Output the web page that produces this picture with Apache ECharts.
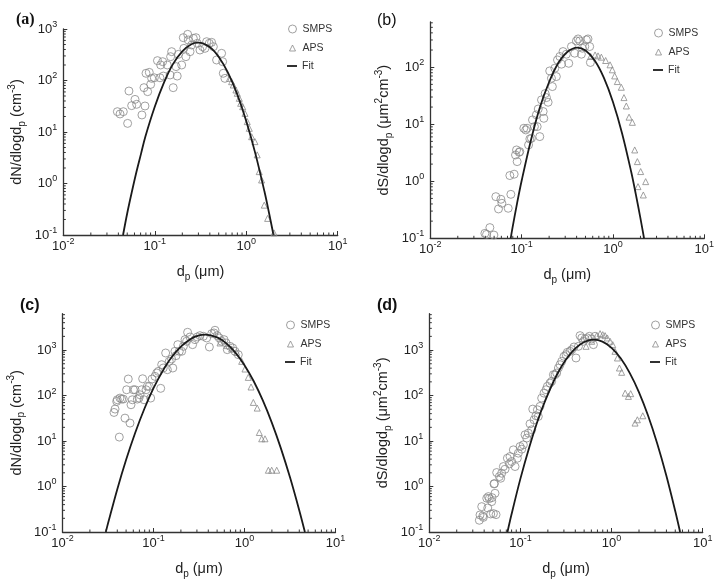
<!DOCTYPE html>
<html><head><meta charset="utf-8">
<script src="https://cdn.jsdelivr.net/npm/echarts@6/dist/echarts.min.js"></script>
<style>html,body{margin:0;padding:0;background:#fff}#chart{width:722px;height:584px}</style>
</head><body><div id="chart"></div>
<script>
// ---------- data (d_p in µm, value) ----------
const smpsA = [[0.039,24.8],[0.0417,22.4],[0.0453,24.8],[0.0505,14.7],[0.0522,62.5],[0.0559,32.5],[0.0608,43],[0.0634,34.5],[0.0724,21.4],[0.0762,72.6],[0.0782,32],[0.0802,138],[0.0836,60.7],[0.0871,144],[0.0902,84],[0.0925,110],[0.0989,113],[0.107,243],[0.114,113],[0.116,200],[0.122,232],[0.124,122],[0.137,200],[0.147,128],[0.149,290],[0.153,363],[0.159,72.6],[0.171,186],[0.176,122],[0.181,322],[0.197,200],[0.205,679],[0.208,421],[0.219,290],[0.229,788],[0.232,612],[0.243,363],[0.253,489],[0.264,659],[0.282,679],[0.292,527],[0.312,391],[0.333,454],[0.354,421],[0.369,567],[0.394,527],[0.418,551],[0.437,454],[0.474,250],[0.538,337],[0.552,232],[0.561,138],[0.585,110]];
const apsA = [[0.655,110],[0.692,94.8],[0.721,81.8],[0.771,65.4],[0.798,56.4],[0.84,45.1],[0.869,36.1],[0.915,31],[0.969,23],[1.026,15.9],[1.08,11.8],[1.146,8.1],[1.245,6.5],[1.318,3.6],[1.387,1.7],[1.472,1.17],[1.574,0.38],[1.714,0.21],[2.01,0.11]];
const fitA = [[0.045,0.1],[0.05,0.265],[0.0562,0.69],[0.063,1.67],[0.0708,3.8],[0.079,8.2],[0.1,31],[0.126,91],[0.158,208],[0.2,368],[0.251,506],[0.3,543],[0.398,446],[0.501,286],[0.631,142],[0.794,55],[1.0,16.4],[1.259,3.8],[1.585,0.69],[1.778,0.265],[1.986,0.1]];

const smpsB = [[0.0396,0.122],[0.0413,0.117],[0.0449,0.154],[0.0497,0.114],[0.0522,0.537],[0.0558,0.327],[0.0593,0.483],[0.0608,0.411],[0.0713,0.336],[0.0743,1.26],[0.0762,0.59],[0.0828,1.33],[0.0857,2.89],[0.0879,3.54],[0.0893,2.21],[0.094,3.22],[0.0955,3.31],[0.1057,8.5],[0.111,7.94],[0.1148,8.5],[0.119,4.33],[0.123,5.52],[0.128,5.67],[0.1315,11.9],[0.138,9.08],[0.145,14.6],[0.148,9.08],[0.152,18.5],[0.158,6.07],[0.165,26.7],[0.172,16.7],[0.175,12.7],[0.181,34.5],[0.187,29.3],[0.195,24.3],[0.203,86],[0.212,64],[0.217,45.7],[0.231,96],[0.24,68.5],[0.247,134],[0.262,154],[0.273,113],[0.284,188],[0.309,169],[0.328,117],[0.351,230],[0.381,176],[0.398,289],[0.415,313],[0.433,289],[0.451,169],[0.462,215],[0.491,230],[0.512,301],[0.533,313],[0.556,230],[0.566,121]];
const apsB = [[0.57,154],[0.637,164],[0.686,158],[0.746,150],[0.832,131],[0.929,110],[0.984,90],[1.044,70.3],[1.116,56],[1.234,44.5],[1.32,29.3],[1.4,20.9],[1.5,13.3],[1.63,10.8],[1.73,3.54],[1.85,2.21],[1.88,0.805],[2.01,1.48],[2.15,0.575],[2.28,0.985]];
const fitB = [[0.0759,0.1],[0.0794,0.152],[0.0891,0.41],[0.1,1.02],[0.126,5.15],[0.158,19.5],[0.2,55],[0.251,117],[0.316,185],[0.407,221],[0.501,196],[0.631,131],[0.794,65.5],[1.0,24.5],[1.259,6.9],[1.585,1.45],[1.778,0.594],[1.995,0.228],[2.19,0.1]];

const smpsC = [[0.0368,42.5],[0.0378,50.4],[0.0394,74.3],[0.04,80.8],[0.0421,12.2],[0.0428,87.9],[0.0447,83.6],[0.0466,83.6],[0.0486,31.9],[0.0507,134],[0.0528,231],[0.0552,24.8],[0.0566,62.7],[0.0585,80.8],[0.06,134],[0.0627,134],[0.0664,83.6],[0.0693,88],[0.0711,104],[0.0741,134],[0.076,234],[0.0787,80.8],[0.0828,134],[0.0855,159],[0.0899,159],[0.0931,88],[0.0963,231],[0.1038,264],[0.1084,313],[0.113,340],[0.12,144],[0.123,477],[0.128,403],[0.136,862],[0.142,370],[0.149,565],[0.158,635],[0.163,403],[0.172,938],[0.177,753],[0.185,1315],[0.192,938],[0.204,938],[0.213,1208],[0.222,1694],[0.231,1557],[0.237,2459],[0.252,1940],[0.269,1315],[0.286,1694],[0.303,1940],[0.324,2075],[0.353,2006],[0.384,1845],[0.411,1169],[0.436,2296],[0.462,2377],[0.474,2722],[0.502,2075],[0.528,1845],[0.561,1557],[0.596,1694],[0.627,1432],[0.647,1021],[0.693,1208],[0.741,1111],[0.787,938],[0.855,792]];
const apsC = [[0.538,1432],[0.637,1250],[0.723,1056],[0.82,891],[0.931,565],[1.012,383],[1.1,251],[1.18,154],[1.25,70.6],[1.38,53],[1.455,15.4],[1.545,11.2],[1.68,11.2],[1.83,2.28],[1.99,2.28],[2.26,2.28]];
const fitC = [[0.0299,0.1],[0.0316,0.153],[0.0398,0.841],[0.0501,3.92],[0.0631,15.4],[0.0794,51.3],[0.1,145],[0.126,345],[0.158,695],[0.2,1187],[0.251,1714],[0.316,2095],[0.372,2183],[0.501,1896],[0.631,1403],[0.794,879],[1.0,466],[1.259,209],[1.585,79],[1.995,25.4],[2.512,6.9],[3.162,1.59],[3.981,0.309],[4.61,0.1]];

const smpsD = [[0.0354,0.181],[0.036,0.237],[0.0376,0.361],[0.0386,0.225],[0.0392,0.21],[0.0427,0.552],[0.0438,0.338],[0.0445,0.6],[0.0456,0.542],[0.0472,0.249],[0.0484,0.466],[0.0488,0.57],[0.0505,0.254],[0.0513,1.14],[0.0518,1.16],[0.0526,0.711],[0.054,0.241],[0.0549,2.03],[0.0587,1.65],[0.0607,1.52],[0.0622,1.96],[0.065,2.75],[0.0678,2.4],[0.0719,4.19],[0.0756,3.15],[0.0769,4.56],[0.0802,3.54],[0.0836,6.4],[0.0873,2.75],[0.0925,4.19],[0.0948,5.41],[0.099,7.58],[0.1033,6.62],[0.1076,8.25],[0.1123,13.7],[0.1172,11.6],[0.1222,14.9],[0.1274,23.9],[0.133,17.7],[0.1365,50.4],[0.141,29.3],[0.148,35.9],[0.1535,48.7],[0.157,34.7],[0.164,57.7],[0.171,87.9],[0.1815,113],[0.191,134],[0.1975,159],[0.211,188],[0.22,205],[0.23,287],[0.24,287],[0.25,313],[0.261,403],[0.272,477],[0.284,565],[0.301,728],[0.317,792],[0.327,891],[0.35,938],[0.366,1021],[0.387,1169],[0.407,669],[0.433,1208],[0.451,2075],[0.471,1845],[0.491,1557],[0.512,1754],[0.543,1845],[0.571,2006],[0.605,1754],[0.632,1315],[0.659,2006]];
const apsD = [[0.525,1208],[0.605,1557],[0.687,2075],[0.748,2296],[0.8,2183],[0.849,2075],[0.899,1845],[0.964,1557],[1.03,1315],[1.09,938],[1.16,669],[1.22,403],[1.29,324],[1.41,113],[1.53,95.7],[1.62,110],[1.81,24.8],[1.92,29.3],[2.2,35.9]];
const fitD = [[0.0721,0.1],[0.0794,0.233],[0.1,1.49],[0.126,7.69],[0.158,31.8],[0.2,106],[0.251,286],[0.316,617],[0.398,1074],[0.501,1503],[0.638,1694],[0.794,1537],[1.0,1121],[1.259,659],[1.585,311],[1.995,119],[2.512,36.3],[3.162,8.95],[3.981,1.77],[5.01,0.283],[5.65,0.1]];

const panelLabels = ['(a)','(b)','(c)','(d)'];
const seriesNames = ['SMPS','APS','Fit'];
const xRange = [0.01, 10];
const yRanges = [[0.1,1000],[0.1,620],[0.1,6300],[0.1,6300]];
const yTitles = [
  '{t|dN/dlogd}{sub|p}{t| (cm}{sup|-3}{t|)}',
  '{t|dS/dlogd}{sub|p}{t| (μm}{sup|2}{t|cm}{sup|-3}{t|)}',
  '{t|dN/dlogd}{sub|p}{t| (cm}{sup|-3}{t|)}',
  '{t|dS/dlogd}{sub|p}{t| (μm}{sup|2}{t|cm}{sup|-3}{t|)}'
];
const xTitle = '{t|d}{sub|p}{t| (μm)}';
const dataSets = [[smpsA,apsA,fitA],[smpsB,apsB,fitB],[smpsC,apsC,fitC],[smpsD,apsD,fitD]];

// ---------- layout / style ----------
const FONT = 'Liberation Sans, Arial, sans-serif';
const grids = [
  {left:63.3, top:29, width:274.4, height:206},
  {left:430.3, top:22, width:274, height:216.3},
  {left:62.5, top:313.7, width:273, height:218.3},
  {left:429.3, top:313.7, width:273.4, height:218.3}
];
const legendPos = [
  {x:302, y:[29,48,66]},
  {x:668, y:[33,52,70]},
  {x:300, y:[325,344,362]},
  {x:665, y:[325,344,362]}
];
const labelPos = [[11,7],[372,8],[15,293],[372,293]];
const AXIS = '#333';
const MARK = '#8a8a8a';
const FITCOLOR = '#1a1a1a';

function powLabel(v){
  const l = Math.log10(v), e = Math.round(l);
  if (Math.abs(l - e) > 1e-6) return '';
  return '{b|10}{s|' + e + '}';
}
const tickRich = {
  b:{fontSize:13, lineHeight:18, color:'#222', fontFamily:FONT},
  s:{fontSize:9, lineHeight:9, verticalAlign:'top', color:'#222', fontFamily:FONT}
};
const nameRich = {
  t:{fontSize:14.5, lineHeight:20, color:'#222', fontFamily:FONT},
  sub:{fontSize:10, lineHeight:10, verticalAlign:'bottom', color:'#222', fontFamily:FONT},
  sup:{fontSize:10, lineHeight:10, verticalAlign:'top', color:'#222', fontFamily:FONT}
};
function minorValues(min, max){
  const out = [];
  for (let k = Math.floor(Math.log10(min)); k < Math.ceil(Math.log10(max)); k++){
    for (let m = 2; m <= 9; m++){
      const v = m * Math.pow(10, k);
      if (v > min * 1.0001 && v < max * 0.9999) out.push(v);
    }
  }
  return out;
}

const option = {
  animation:false,
  backgroundColor:'#fff',
  title:[], grid:[], xAxis:[], yAxis:[], series:[], legend:[]
};

// legend icon look per entry (size and shape only)
const legendIcons = [
  {icon:'circle', w:8, h:8},
  {icon:'triangle', w:6, h:6},
  {icon:'rect', w:10, h:1.8}
];

for (let i = 0; i < 4; i++){
  const g = grids[i];
  option.grid.push(Object.assign({containLabel:false, outerBoundsMode:'none'}, g));
  option.title.push({
    text:panelLabels[i], left:labelPos[i][0], top:labelPos[i][1],
    textStyle:{fontSize:16, fontWeight: i===1 ? 'normal' : 'bold', color:'#111',
      fontFamily: i===0 ? 'Liberation Serif, serif' : FONT}
  });
  option.xAxis.push({
    type:'log', gridIndex:i, min:xRange[0], max:xRange[1], splitNumber:3,
    name:xTitle, nameLocation:'middle', nameGap:27,
    nameTextStyle:{rich:nameRich},
    axisLine:{show:true, lineStyle:{color:AXIS, width:1.3}},
    axisTick:{show:true, inside:true, length:4, lineStyle:{color:AXIS}},
    splitLine:{show:false},
    axisLabel:{formatter:powLabel, rich:tickRich, margin:2, showMinLabel:true, showMaxLabel:true}
  });
  option.yAxis.push({
    type:'log', gridIndex:i, min:yRanges[i][0], max:yRanges[i][1], splitNumber: i===1 ? 3 : 4,
    name:yTitles[i], nameLocation:'middle', nameGap:36,
    nameTextStyle:{rich:nameRich},
    axisLine:{show:true, lineStyle:{color:AXIS, width:1.3}},
    axisTick:{show:true, inside:true, length:4, lineStyle:{color:AXIS}},
    splitLine:{show:false},
    axisLabel:{formatter:powLabel, rich:tickRich, margin:6, showMinLabel:true, showMaxLabel: i===0}
  });
  const [smps, aps, fit] = dataSets[i];
  option.series.push({
    name:'SMPS', type:'scatter', xAxisIndex:i, yAxisIndex:i, data:smps,
    symbol:'circle', symbolSize:8, z:2,
    itemStyle:{color:'rgba(255,255,255,0)', borderColor:MARK, borderWidth:1}
  });
  option.series.push({
    name:'APS', type:'scatter', xAxisIndex:i, yAxisIndex:i, data:aps,
    symbol:'triangle', symbolSize:6, z:2,
    itemStyle:{color:'rgba(255,255,255,0)', borderColor:MARK, borderWidth:1}
  });
  option.series.push({
    name:'Fit', type:'line', xAxisIndex:i, yAxisIndex:i, data:fit,
    symbol:'none', smooth:0.35, z:3, color:FITCOLOR,
    itemStyle:{color:FITCOLOR},
    lineStyle:{color:FITCOLOR, width:1.8}
  });
  // log-spaced minor ticks drawn through the axes' own scales
  const ymin = yRanges[i][0], ymax = yRanges[i][1];
  const tickData = minorValues(ymin, ymax).map(v => [xRange[0], v, 0])
    .concat(minorValues(xRange[0], xRange[1]).map(v => [v, ymin, 1]));
  option.series.push({
    type:'custom', xAxisIndex:i, yAxisIndex:i, data:tickData, silent:true, z:4,
    renderItem:(params, api) => {
      const p = api.coord([api.value(0), api.value(1)]);
      const horiz = api.value(2) === 0;
      return {type:'line',
        shape: horiz ? {x1:p[0], y1:p[1], x2:p[0]+2.5, y2:p[1]} : {x1:p[0], y1:p[1], x2:p[0], y2:p[1]-2.5},
        style:{stroke:AXIS, lineWidth:1}};
    }
  });
  // legends, one per entry so each icon can have its own size
  const lp = legendPos[i];
  for (let k = 0; k < 3; k++){
    const ic = legendIcons[k];
    const item = {name:seriesNames[k], icon:ic.icon};
    if (k < 2) item.itemStyle = {color:'rgba(255,255,255,0)', borderColor:MARK, borderWidth:1};
    else item.itemStyle = {color:FITCOLOR, borderWidth:0};
    option.legend.push({
      data:[item], left:lp.x - 5 - ic.w - (10 - ic.w) / 2, top:lp.y[k] - 7, padding:0,
      itemWidth:ic.w, itemHeight:ic.h, itemGap:0, selectedMode:false,
      textStyle:{fontSize:10.5, color:'#333', fontFamily:FONT, lineHeight:14, padding:[0,0,0,(10 - ic.w) / 2]}
    });
  }
}

const chart = echarts.init(document.getElementById('chart'), null, {renderer:'canvas'});
chart.setOption(option);
</script></body></html>
